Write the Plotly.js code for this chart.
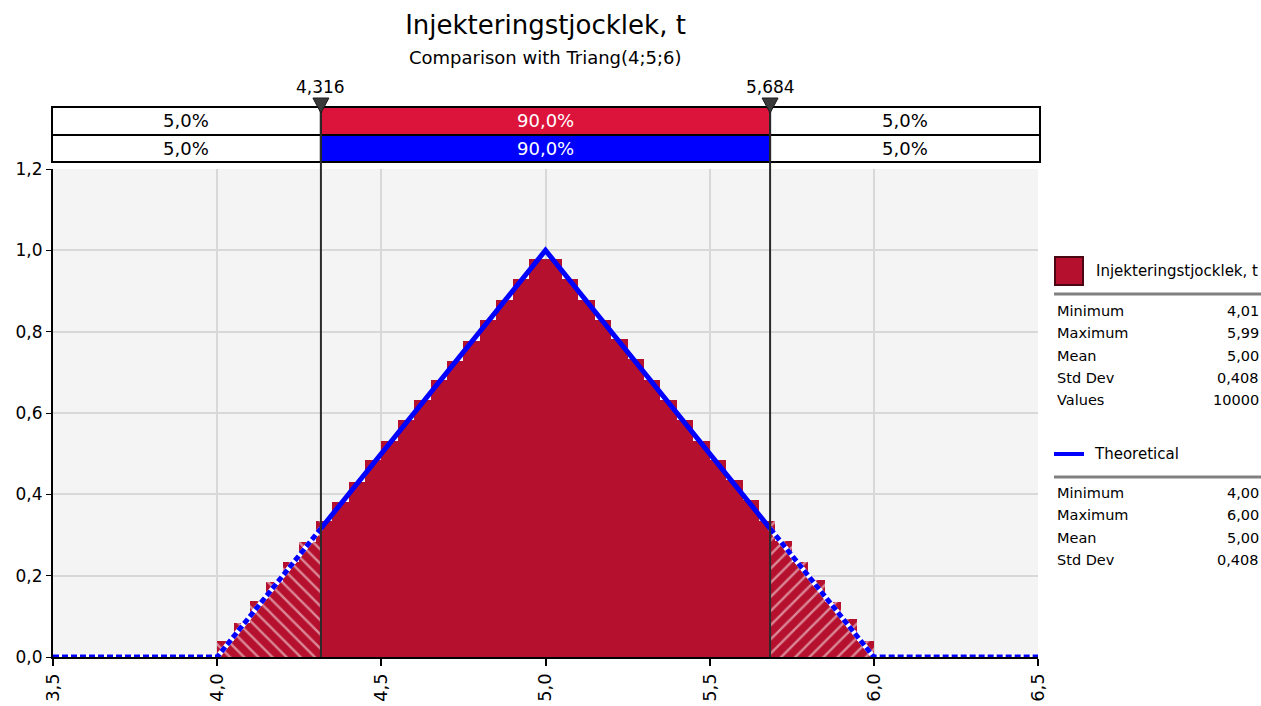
<!DOCTYPE html>
<html>
<head>
<meta charset="utf-8">
<script src="https://cdn.plot.ly/plotly-3.0.1.min.js"></script>
<style>
  html, body { margin: 0; padding: 0; background: #ffffff; }
  #chart { width: 1261px; height: 706px; }
</style>
</head>
<body>
<div id="chart"></div>
<script>
// ---- Data -----------------------------------------------------------------
const chartTitle = 'Injekteringstjocklek, t';
const chartSubtitle = 'Comparison with Triang(4;5;6)';

// Histogram of the simulated values: bins of width 0.05 from 4.00 to 6.00
const binStart = 4.0;
const binWidth = 0.05;
const density = [
  0.040, 0.084, 0.138, 0.185, 0.234, 0.284, 0.334, 0.381, 0.431, 0.484,
  0.531, 0.583, 0.632, 0.681, 0.728, 0.778, 0.829, 0.878, 0.929, 0.979,
  0.979, 0.929, 0.878, 0.829, 0.782, 0.733, 0.681, 0.632, 0.583, 0.531,
  0.484, 0.435, 0.386, 0.334, 0.285, 0.233, 0.189, 0.136, 0.093, 0.040
];

// Theoretical Triang(4;5;6) density
const theoX = [3.5, 4.0, 4.316, 5.0, 5.684, 6.0, 6.5];
const theoY = [0.0, 0.0, 0.316, 1.0, 0.316, 0.0, 0.0];

// 5% / 95% delimiters
const cutLow = 4.316;
const cutHigh = 5.684;
const cutLabels = ['4,316', '5,684'];
const pctSimulated = [5.0, 90.0, 5.0];
const pctTheoretical = [5.0, 90.0, 5.0];

// Summary statistics
const simStatNames = ['Minimum', 'Maximum', 'Mean', 'Std Dev', 'Values'];
const simStatValues = ['4,01', '5,99', '5,00', '0,408', '10000'];
const theoStatNames = ['Minimum', 'Maximum', 'Mean', 'Std Dev'];
const theoStatValues = ['4,00', '6,00', '5,00', '0,408'];

const xRange = [3.5, 6.5];
const yRange = [0, 1.2];

// ---- Geometry helpers -----------------------------------------------------
const W = 1261, H = 706;
const M = { l: 53, r: 223, t: 169, b: 49 };
const plotW = W - M.l - M.r, plotH = H - M.t - M.b;
const px2x = px => (px - M.l) / plotW;          // pixel column -> paper x
const py2y = py => (H - M.b - py) / plotH;       // pixel row -> paper y
const v2x = v => (v - xRange[0]) / (xRange[1] - xRange[0]); // data x -> paper x

const FONT = '"DejaVu Sans", sans-serif';
const RED = '#b5112f';
const CRIMSON = '#dc143c';
const BLUE = '#0000ff';
const fmtPct = v => v.toFixed(1).replace('.', ',') + '%';

// ---- Histogram split into tail / centre pieces -----------------------------
const pieces = { left: { x: [], w: [], y: [] }, mid: { x: [], w: [], y: [] }, right: { x: [], w: [], y: [] } };
density.forEach((d, i) => {
  const a = binStart + i * binWidth, b = a + binWidth;
  const cuts = [a];
  if (cutLow > a && cutLow < b) cuts.push(cutLow);
  if (cutHigh > a && cutHigh < b) cuts.push(cutHigh);
  cuts.push(b);
  for (let k = 0; k < cuts.length - 1; k++) {
    const s = cuts[k], e = cuts[k + 1], c = (s + e) / 2;
    const grp = c < cutLow ? pieces.left : (c > cutHigh ? pieces.right : pieces.mid);
    grp.x.push(c); grp.w.push(e - s); grp.y.push(d);
  }
});

function barTrace(p, shape) {
  const marker = { color: RED, line: { width: 0 } };
  if (shape) {
    marker.pattern = { shape: shape, fgcolor: '#ffffff', bgcolor: RED, size: 10, solidity: 0.24, fillmode: 'overlay' };
  }
  return { type: 'bar', x: p.x, y: p.y, width: p.w, marker: marker, hoverinfo: 'skip', showlegend: false };
}

const traces = [
  barTrace(pieces.left, '\\'),
  barTrace(pieces.mid, null),
  barTrace(pieces.right, '/')
];

// Theoretical curve: dashed in the tails, solid in the centre
const iLo = theoX.indexOf(cutLow), iHi = theoX.indexOf(cutHigh);
const tails = [[0, iLo], [iHi, theoX.length - 1]];
tails.forEach(([s, e]) => {
  traces.push({ type: 'scatter', mode: 'lines', x: theoX.slice(s, e + 1), y: theoY.slice(s, e + 1),
    line: { color: '#ffffff', width: 5 }, hoverinfo: 'skip', showlegend: false, cliponaxis: false });
  traces.push({ type: 'scatter', mode: 'lines', x: theoX.slice(s, e + 1), y: theoY.slice(s, e + 1),
    line: { color: BLUE, width: 5, dash: '6px,3px' }, hoverinfo: 'skip', showlegend: false, cliponaxis: false });
});
traces.push({ type: 'scatter', mode: 'lines', x: theoX.slice(iLo, iHi + 1), y: theoY.slice(iLo, iHi + 1),
  line: { color: BLUE, width: 5 }, hoverinfo: 'skip', showlegend: false });

// ---- Shapes ---------------------------------------------------------------
const shapes = [];
const boxL = px2x(52), boxR = px2x(1040);
const rows = [
  { top: 107, bot: 135, mid: CRIMSON, pct: pctSimulated },
  { top: 135, bot: 162, mid: BLUE, pct: pctTheoretical }
];
const segX = [boxL, v2x(cutLow), v2x(cutHigh), boxR];
rows.forEach(r => {
  const fills = ['#ffffff', r.mid, '#ffffff'];
  for (let k = 0; k < 3; k++) {
    shapes.push({ type: 'rect', xref: 'paper', yref: 'paper', x0: segX[k], x1: segX[k + 1],
      y0: py2y(r.bot), y1: py2y(r.top), fillcolor: fills[k], line: { color: '#000', width: 2 }, layer: 'above' });
  }
});
// Delimiter lines with triangle markers on top
[cutLow, cutHigh].forEach(c => {
  const xc = v2x(c);
  shapes.push({ type: 'line', xref: 'paper', yref: 'paper', x0: xc, x1: xc, y0: 0, y1: py2y(107),
    line: { color: '#2a2a2a', width: 2 }, layer: 'above' });
  const dx = 8 / plotW;
  shapes.push({ type: 'path', xref: 'paper', yref: 'paper',
    path: `M ${xc - dx},${py2y(98)} L ${xc + dx},${py2y(98)} L ${xc},${py2y(113)} Z`,
    fillcolor: '#3a3a3a', line: { color: '#1a1a1a', width: 1 }, layer: 'above' });
});
// Legend panel
shapes.push({ type: 'rect', xref: 'paper', yref: 'paper', x0: px2x(1055), x1: px2x(1083), y0: py2y(285), y1: py2y(257),
  fillcolor: RED, line: { color: '#4a0612', width: 2 } });
shapes.push({ type: 'line', xref: 'paper', yref: 'paper', x0: px2x(1054), x1: px2x(1261), y0: py2y(294), y1: py2y(294),
  line: { color: '#808080', width: 3 } });
shapes.push({ type: 'line', xref: 'paper', yref: 'paper', x0: px2x(1054), x1: px2x(1084), y0: py2y(454), y1: py2y(454),
  line: { color: BLUE, width: 4 } });
shapes.push({ type: 'line', xref: 'paper', yref: 'paper', x0: px2x(1054), x1: px2x(1261), y0: py2y(477), y1: py2y(477),
  line: { color: '#808080', width: 3 } });

// ---- Annotations ----------------------------------------------------------
const annotations = [];
annotations.push({ xref: 'paper', yref: 'paper', x: 0.5, y: py2y(58), text: chartSubtitle, showarrow: false,
  xanchor: 'center', yanchor: 'middle', font: { family: FONT, size: 18, color: '#000' } });
rows.forEach(r => {
  for (let k = 0; k < 3; k++) {
    annotations.push({ xref: 'paper', yref: 'paper', x: (segX[k] + segX[k + 1]) / 2, y: py2y((r.top + r.bot) / 2),
      text: fmtPct(r.pct[k]), showarrow: false, xanchor: 'center', yanchor: 'middle',
      font: { family: FONT, size: 18, color: k === 1 ? '#ffffff' : '#000000' } });
  }
});
[cutLow, cutHigh].forEach((c, i) => {
  annotations.push({ xref: 'paper', yref: 'paper', x: v2x(c), y: py2y(87), text: cutLabels[i], showarrow: false,
    xanchor: 'center', yanchor: 'middle', font: { family: FONT, size: 17, color: '#000' } });
});
annotations.push({ xref: 'paper', yref: 'paper', x: px2x(1094), y: py2y(271), text: chartTitle, showarrow: false,
  xanchor: 'left', yanchor: 'middle', font: { family: FONT, size: 15, color: '#000' } });
annotations.push({ xref: 'paper', yref: 'paper', x: px2x(1092), y: py2y(454), text: 'Theoretical', showarrow: false,
  xanchor: 'left', yanchor: 'middle', font: { family: FONT, size: 15, color: '#000' } });
function statRows(names, values, y0) {
  names.forEach((n, i) => {
    const y = py2y(y0 + i * 22.3);
    annotations.push({ xref: 'paper', yref: 'paper', x: px2x(1055), y: y, text: n, showarrow: false,
      xanchor: 'left', yanchor: 'middle', font: { family: FONT, size: 14.5, color: '#000' } });
    annotations.push({ xref: 'paper', yref: 'paper', x: px2x(1261), y: y, text: values[i], showarrow: false,
      xanchor: 'right', yanchor: 'middle', font: { family: FONT, size: 14.5, color: '#000' } });
  });
}
statRows(simStatNames, simStatValues, 311);
statRows(theoStatNames, theoStatValues, 493);

// ---- Layout ---------------------------------------------------------------
const layout = {
  width: W, height: H,
  margin: M,
  paper_bgcolor: '#ffffff',
  plot_bgcolor: '#f4f4f4',
  separators: ', ',
  barmode: 'overlay',
  bargap: 0,
  showlegend: false,
  font: { family: FONT, color: '#000' },
  title: {
    text: chartTitle,
    font: { family: FONT, size: 26, color: '#000' },
    x: 0.5, xref: 'paper', xanchor: 'center',
    y: 1 - 25 / H, yref: 'container', yanchor: 'middle'
  },
  xaxis: {
    range: xRange, dtick: 0.5, tick0: 3.5, tickformat: '.1f', tickangle: -90,
    showgrid: true, gridcolor: '#d8d8d8', gridwidth: 2,
    showline: true, linecolor: '#000', linewidth: 2,
    ticks: 'outside', ticklen: 7, tickcolor: '#000', tickwidth: 2,
    tickfont: { family: FONT, size: 18, color: '#000' },
    zeroline: false, fixedrange: true
  },
  yaxis: {
    range: yRange, dtick: 0.2, tickformat: '.1f',
    showgrid: true, gridcolor: '#d8d8d8', gridwidth: 2,
    showline: true, linecolor: '#000', linewidth: 2,
    ticks: 'outside', ticklen: 5, tickcolor: '#000', tickwidth: 1,
    tickfont: { family: FONT, size: 17, color: '#000' },
    zeroline: false, fixedrange: true
  },
  shapes: shapes,
  annotations: annotations
};

Plotly.newPlot('chart', traces, layout, { displayModeBar: false, staticPlot: true });
</script>
</body>
</html>
